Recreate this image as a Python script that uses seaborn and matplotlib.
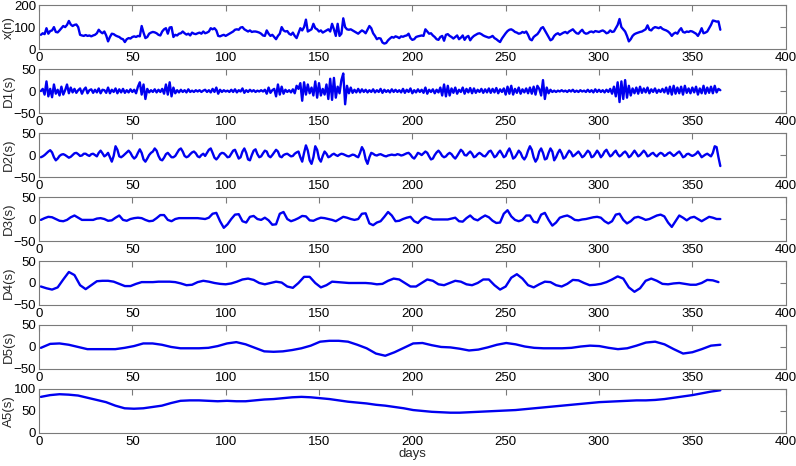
import numpy as np
import matplotlib
matplotlib.use("Agg")
import matplotlib.pyplot as plt
import seaborn as sns

# ---------------- data ----------------
x_n = [65, 72, 68, 95, 70, 82, 85, 100, 78, 76,
       85, 95, 105, 100, 110, 128, 112, 105, 110, 112,
       100, 65, 62, 60, 64, 60, 62, 58, 62, 65,
       72, 88, 78, 72, 80, 62, 35, 55, 70, 68,
       62, 58, 55, 48, 45, 32, 45, 50, 48, 55,
       58, 55, 60, 58, 105, 75, 50, 55, 70, 75,
       78, 76, 72, 65, 62, 80, 90, 95, 70, 98,
       100, 55, 65, 62, 70, 72, 80, 72, 66, 70,
       62, 75, 70, 68, 72, 75, 70, 80, 72, 75,
       80, 95, 90, 95, 85, 60, 58, 62, 65, 60,
       65, 70, 75, 80, 88, 90, 88, 98, 100, 90,
       85, 80, 85, 78, 80, 80, 78, 75, 70, 62,
       60, 85, 70, 60, 65, 55, 45, 60, 70, 100,
       85, 80, 82, 70, 65, 75, 60, 50, 72, 95,
       85, 100, 134, 80, 85, 90, 115, 95, 90, 80,
       85, 75, 80, 85, 90, 80, 115, 90, 60, 115,
       60, 70, 140, 100, 90, 88, 90, 85, 80, 75,
       70, 78, 85, 80, 72, 88, 105, 95, 72, 60,
       45, 50, 48, 30, 25, 28, 40, 48, 55, 52,
       58, 55, 50, 58, 56, 60, 62, 70, 50, 42,
       45, 55, 58, 60, 62, 60, 90, 80, 70, 72,
       62, 55, 45, 42, 55, 60, 38, 65, 68, 60,
       55, 48, 55, 62, 45, 52, 62, 42, 55, 60,
       40, 52, 60, 65, 70, 72, 68, 62, 58, 55,
       52, 55, 60, 50, 45, 38, 32, 48, 60, 72,
       82, 88, 90, 85, 78, 75, 70, 72, 78, 74,
       80, 65, 45, 40, 55, 62, 68, 80, 95, 100,
       85, 70, 55, 40, 45, 60, 68, 72, 65, 70,
       75, 78, 72, 80, 85, 90, 80, 72, 70, 80,
       88, 75, 70, 72, 78, 80, 76, 82, 80, 78,
       82, 85, 80, 72, 75, 85, 78, 80, 95, 110,
       137, 100, 90, 80, 60, 35, 45, 60, 68, 72,
       75, 78, 80, 85, 90, 108, 88, 85, 95, 100,
       98, 95, 100, 92, 88, 85, 80, 72, 60, 70,
       75, 70, 85, 95, 78, 75, 80, 78, 82, 80,
       75, 70, 60, 75, 95, 72, 75, 80, 95, 110,
       130, 128, 125, 126, 88]

d1 = [0, 5, -8, 22, -12, 5, -14, 15, -6, 3,
      -10, 10, -8, 2, 15, -5, 8, -3, 5, -4,
      2, 6, -6, 3, 8, -5, 2, 4, -4, 3,
      -3, 6, -5, 3, 2, -4, 8, -5, 3, -2,
      6, -5, 4, -3, 5, -4, 2, -3, 4, -2,
      3, -5, 10, 20, -8, 15, -18, 5, -3, 2,
      -2, 4, -3, 3, -2, 5, -6, 15, -8, 20,
      -12, 8, -5, 2, -3, 3, -2, 2, -3, 4,
      -2, 1, -2, 2, -1, 2, -2, 1, 3, -2,
      2, -3, 5, -2, 8, -6, 3, -2, 2, -1,
      1, -2, 3, -2, 4, -3, 2, -1, 6, -4,
      2, -2, 3, -1, 2, -2, 1, -1, 2, -1,
      3, -6, 8, -4, 2, 5, -12, 15, -8, 10,
      -6, 3, -2, 2, -3, 4, -5, 12, 5, 18,
      -22, 20, -8, 15, -5, 8, -10, 22, -15, 18,
      -10, 5, -8, 15, -18, 28, -20, 30, -15, 10,
      -5, 25, 40, -30, 12, -5, 8, -4, 3, -3,
      5, -3, 4, -2, 3, -3, 2, -2, 4, -3,
      2, -2, 5, -4, 3, -2, 2, -3, 4, -2,
      3, -2, 2, -3, 5, -4, 3, -2, 6, -5,
      2, -3, 4, -2, 3, -4, 8, -6, 3, -2,
      4, -5, 3, -3, 8, -10, 15, -12, 12, -10,
      6, -4, 8, -6, 3, -2, 8, -6, 5, -3,
      7, -5, 6, -4, 3, -2, 5, -4, 4, -3,
      6, -4, 5, -3, 7, -5, 4, -2, 6, -8,
      10, -6, 12, -8, 5, -4, 8, -6, 4, -3,
      6, -5, 8, -6, 10, -8, 12, 5, -10, 25,
      -18, 8, -5, 3, -2, 1, -2, 1, -1, 2,
      -1, 1, -2, 2, -1, 3, -2, 1, -2, 2,
      -1, 1, -2, 3, -2, 2, -3, 4, -2, 3,
      -2, 2, -3, 3, -2, 5, -6, 10, -12, 20,
      -25, 22, -18, 25, -15, 12, -10, 6, -5, 8,
      -6, 10, -4, 6, -3, 8, -5, 4, -2, 6,
      -4, 3, -2, 5, -3, 8, -6, 10, -8, 12,
      -6, 8, -5, 10, -8, 12, -4, 6, -5, 8,
      -3, 10, -8, 6, -5, 12, -6, 8, -4, 10,
      -5, 12, -3, 5, 2]

d2 = [-5, -3, 0, 4, 8, 11, 6, -5, -12, -8,
      -2, 1, 2, 0, -3, -6, -4, 0, 4, 5,
      2, -2, -1, 3, 3, 0, -2, 2, 3, 0,
      -3, 5, 10, 4, -3, 0, 5, -5, -15, -2,
      20, 12, -3, -5, -2, 2, 6, 10, 5, -3,
      -8, -4, 5, 13, 5, -10, -15, -8, 0, 5,
      8, 15, 10, -2, -10, -12, -6, 2, 5, 0,
      -5, -5, -2, 5, 12, 15, 8, -2, -5, -3,
      2, 6, 8, 4, -3, -5, 0, 3, -2, 5,
      12, 15, 5, -6, -10, -5, 2, 5, 4, 0,
      -5, -4, 3, 10, 12, 2, -8, -5, 8, 15,
      5, -10, -12, 0, 10, 13, 2, -5, -3, 4,
      10, 8, -2, -5, 0, 6, 12, 8, -3, -5,
      0, 2, 3, 0, -3, -2, 3, 6, 8, -5,
      -15, 5, 22, 10, -12, -20, -5, 20, 12, -8,
      -15, -2, 8, 3, -5, -3, 1, 3, 0, -2,
      1, 3, 2, 0, -2, -3, -1, 1, 0, -3,
      -5, 5, 18, 10, -10, -20, -5, 5, 3, 0,
      -1, 1, 2, 0, -2, -3, -1, 0, 1, 0,
      0, 2, 1, -1, 0, 2, 4, 5, 1, -5,
      -8, -2, 5, 3, 0, 4, 8, 5, -3, -10,
      -8, 0, 6, 10, 5, -2, -5, -3, 2, 5,
      2, -4, -8, -2, 5, 12, 8, 0, -1, 4,
      8, 3, -5, -3, 2, 5, 2, -2, -3, 2,
      8, 10, 3, -5, -2, 5, 10, 3, -5, -2,
      8, 15, 5, -8, -5, 2, 10, 5, -5, -10,
      -3, 10, 20, 12, -5, -15, -8, 8, 15, 5,
      -10, -8, 5, 15, 8, -12, -5, 5, 12, 4,
      -8, -5, 3, 10, 6, -3, 0, 4, 8, 2,
      -5, -2, 4, 10, 6, -5, -3, 3, 10, 4,
      -5, 0, 8, 12, 4, -3, 0, 6, 10, 2,
      -3, 0, 5, 8, 3, -5, -2, 4, 10, 4,
      -3, 0, 5, 10, 5, -3, -1, 3, 5, 0,
      -3, 2, 5, 3, -2, 0, 4, 6, 2, -2,
      1, 5, 8, 2, -5, -3, 2, 3, 0, -2,
      0, 3, 8, 2, -5, -2, 1, 3, 0, -3,
      5, 20, 18, -5, -25]

# D3 sampled every 2 days (days 1, 3, 5, ...)
d3 = [-2, 2, 5, 4, 0, -4, -5, -2, 4, 8,
      3, -2, -2, -2, -2, 1, 2, 0, -4, -3,
      3, 8, -2, -4, 0, 2, 3, 2, -2, -5,
      -4, 2, 9, 9, -2, -5, 0, 2, 2, 2,
      2, 2, 2, 1, 0, 3, 12, 14, -5, -20,
      -12, 0, 10, 11, -5, -8, 5, 7, 0, -2,
      3, -3, -13, -12, 12, 16, 0, -5, -2, 2,
      7, 6, -3, -4, 0, 3, 2, 0, -2, -5,
      0, 5, 3, 0, -2, 0, 12, 13, -10, -14,
      -8, -5, 5, 16, 8, -5, -4, 0, 3, 5,
      -5, -9, 0, 5, 2, -1, -1, -1, -1, -1,
      1, 3, -5, -6, 2, 8, 0, -3, 3, 8,
      4, -4, -9, -8, 12, 20, 6, -2, -5, -2,
      8, 8, -6, -8, 10, 14, -2, -15, -8, 3,
      6, 8, 4, -2, -3, -1, 0, 2, 4, 5,
      3, -5, -10, -5, 10, 12, -2, -10, -5, 3,
      5, 2, -2, 0, 4, 8, 10, 6, -8, -18,
      -5, 8, 3, -3, 3, 5, 0, -5, 0, 5,
      3, 0, 0]

# D4 sampled every 3 days (days 1, 4, 7, ...)
d4 = [-8, -12, -15, -10, 8, 25, 18, -5, -14, -5,
      4, 5, 5, 3, -2, -7, -7, -2, 2, 2,
      2, 3, 3, 3, 2, -1, -5, -4, 2, 5,
      3, 0, -2, -3, -1, 3, 8, 10, 7, 0,
      -3, 0, 3, 1, -8, -11, 0, 14, 14, 0,
      -10, -5, 3, 2, 1, 0, 0, 0, 0, -1,
      -3, -2, 5, 10, 8, 0, -8, -8, 0, 8,
      5, -3, -5, 0, 5, 3, -3, -5, 0, 8,
      8, -5, -15, -8, 12, 20, 10, -5, -10, -3,
      3, 2, -5, -8, -2, 7, 6, 0, -5, -4,
      -2, 2, 8, 15, 10, -10, -20, -12, 5, 10,
      5, -2, -3, -1, 0, -2, -4, -4, 0, 7,
      6, 2]

# D5 and A5 sampled about every 5 days
d5 = [-2, 7, 8, 5, 0, -5, -5, -5, -5, -2,
      2, 8, 8, 5, 0, -3, -3, -3, -2, 2,
      8, 11, 6, -2, -10, -11, -10, -7, -3, 3,
      12, 14, 14, 12, 5, -3, -15, -20, -12, -2,
      8, 9, 4, 0, -1, -4, -8, -6, -1, 5,
      9, 6, 1, -2, -3, -3, -3, -2, 1, 3,
      2, -2, -5, -3, 3, 10, 12, 6, -5, -15,
      -12, -5, 3, 5]

a5 = [82, 86, 88, 87, 85, 80, 75, 70, 62, 56,
      55, 56, 59, 62, 68, 73, 74, 74, 73, 72,
      73, 72, 72, 74, 76, 77, 79, 81, 82, 81,
      79, 77, 74, 71, 69, 67, 64, 62, 59, 56,
      52, 50, 48, 47, 46, 46, 47, 48, 49, 50,
      51, 52, 54, 56, 58, 60, 62, 64, 66, 68,
      70, 71, 72, 73, 74, 74, 75, 77, 80, 83,
      86, 90, 94, 97]

labels = ["x(n)", "D1(s)", "D2(s)", "D3(s)", "D4(s)", "D5(s)", "A5(s)"]
series = [x_n, d1, d2, d3, d4, d5, a5]
steps = [1, 1, 1, 2, 3, None, None]
ylims = [(0, 200), (-50, 50), (-50, 50), (-50, 50), (-50, 50), (-50, 50), (0, 100)]
yticks = [[0, 100, 200], [-50, 0, 50], [-50, 0, 50], [-50, 0, 50],
          [-50, 0, 50], [-50, 0, 50], [0, 50, 100]]
xticks = list(range(0, 401, 50))

# ---------------- plot ----------------
sns.set_theme(style="white")
plt.rcParams["font.family"] = ["Liberation Sans", "DejaVu Sans"]

fig, axes = plt.subplots(7, 1, figsize=(7.96, 4.66), dpi=100)
fig.subplots_adjust(left=0.049, right=0.987, top=0.989, bottom=0.071, hspace=0.455)

edge = "#7a7a7a"
for ax, vals, step, lab, yl, yt in zip(axes, series, steps, labels, ylims, yticks):
    vals = np.asarray(vals, dtype=float)
    if step is None:
        days = np.linspace(1, 365, len(vals))
    else:
        days = np.arange(len(vals)) * step + 1
    sns.lineplot(x=days, y=vals, ax=ax, color="#0000f0", linewidth=1.7, legend=False)
    ax.set_xlim(0, 400)
    ax.set_ylim(*yl)
    ax.set_xticks(xticks)
    ax.set_yticks(yt)
    ax.tick_params(direction="in", top=True, right=True, length=4, width=0.8,
                   color=edge, labelsize=9.5, pad=2, labelcolor="black")
    for s in ax.spines.values():
        s.set_color(edge)
        s.set_linewidth(0.8)
    ax.set_ylabel(lab, fontsize=9.5)
    ax.yaxis.set_label_coords(-0.032, 0.5)
    ax.set_xlabel("")

axes[-1].set_xlabel("days", fontsize=9.5, labelpad=0)

fig.savefig("out.png", dpi=100)
